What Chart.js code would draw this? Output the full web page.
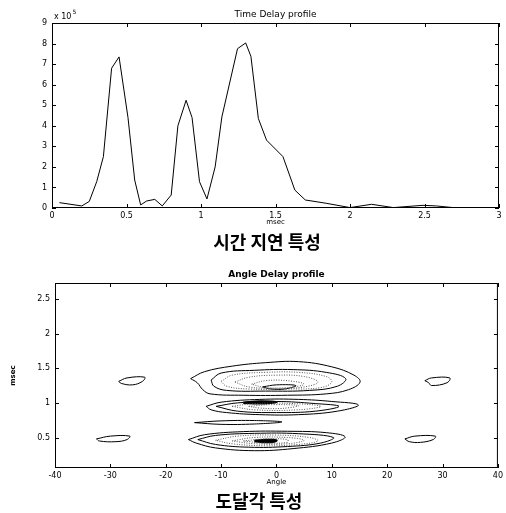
<!DOCTYPE html>
<html>
<head>
<meta charset="utf-8">
<script src="https://cdn.jsdelivr.net/npm/chart.js@4.4.0/dist/chart.umd.min.js"></script>
<style>
  body { margin:0; background:#fff; width:506px; height:513px; position:relative; overflow:hidden; }
  .box { position:absolute; left:0; width:506px; height:230px; }
  .cap { position:absolute; width:506px; text-align:center; font-family:"Noto Sans CJK KR", sans-serif;
         font-weight:700; font-size:18px; line-height:1; color:#000; }
</style>
</head>
<body>
<div class="box" style="top:0"><canvas id="delayChart" width="506" height="230"></canvas></div>
<div class="cap" style="top:232px; left:14px">시간 지연 특성</div>
<div class="box" style="top:260px"><canvas id="angleChart" width="506" height="230"></canvas></div>
<div class="cap" style="top:491px; left:6px">도달각 특성</div>

<script>
// --- Time Delay profile (values x 10^5) ---
const delayMsec  = [0.05, 0.2, 0.25, 0.3, 0.345, 0.4, 0.45, 0.51, 0.555, 0.595, 0.635, 0.69, 0.74, 0.8, 0.845,
                    0.9, 0.94, 0.99, 1.04, 1.095, 1.14, 1.245, 1.3, 1.335, 1.385, 1.44, 1.55, 1.63, 1.7, 1.84,
                    2.0, 2.145, 2.29, 2.49, 2.58, 2.72];
const delayPower = [0.26, 0.1, 0.32, 1.28, 2.5, 6.8, 7.35, 4.4, 1.36, 0.15, 0.34, 0.42, 0.1, 0.63, 4.0,
                    5.24, 4.4, 1.28, 0.44, 2.0, 4.43, 7.75, 8.03, 7.38, 4.35, 3.3, 2.5, 0.87, 0.39, 0.23,
                    0.02, 0.18, 0.02, 0.13, 0.1, 0.0];
const delayXTicks = [0, 0.5, 1, 1.5, 2, 2.5, 3];
const delayYTicks = [0, 1, 2, 3, 4, 5, 6, 7, 8, 9];

// --- Angle Delay profile : contour loops as [angle, msec] ---
const angleXTicks = [-40, -30, -20, -10, 0, 10, 20, 30, 40];
const angleYTicks = [0.5, 1, 1.5, 2, 2.5];

const contourA1 = [[-15.5,1.35],[-13,1.45],[-8,1.53],[-2,1.58],[4,1.595],[10,1.52],[14,1.4],[15.1,1.3],[13,1.19],
                   [9,1.13],[2,1.11],[-6,1.11],[-12,1.13],[-13.3,1.19],[-14.3,1.29]];
const contourA2 = [[-11.8,1.33],[-10,1.43],[-4,1.47],[3,1.48],[9,1.44],[12.5,1.35],[11,1.24],[6,1.18],[-2,1.17],[-9,1.18],[-11.3,1.24]];
const contourA3 = [[-10,1.31],[-8,1.4],[-2,1.44],[4,1.44],[9,1.38],[10,1.3],[8,1.22],[2,1.2],[-5,1.2],[-9,1.24]];
const contourA4 = [[-7.5,1.3],[-5,1.37],[0,1.4],[5,1.38],[7.5,1.3],[5,1.23],[0,1.21],[-5,1.23]];
const contourA5 = [[-4.5,1.27],[-2,1.32],[2,1.32],[5,1.27],[2,1.22],[-2,1.22]];
const contourA6 = [[-2.5,1.23],[0,1.26],[3.5,1.25],[1.5,1.2],[-1,1.2]];

const contourB1 = [[-12.7,0.95],[-10,1.01],[-3,1.05],[4,1.05],[10,1.02],[14.8,0.97],[11,0.88],[4,0.83],[-3,0.83],[-9,0.86],[-11.8,0.9]];
const contourB2 = [[-10.9,0.95],[-7,1.0],[0,1.02],[7,0.99],[11.3,0.95],[7,0.88],[0,0.86],[-7,0.88]];
const contourB3 = [[-8,0.95],[-4,0.99],[3,0.99],[8,0.95],[4,0.9],[-4,0.9]];
const contourB4 = [[-5,0.95],[-1,0.975],[4,0.96],[1,0.92],[-3,0.925]];
const contourB5 = [[-6,1.0],[-3,1.02],[0,1.01],[-3,0.995]];

const contourC1 = [[-14.8,0.715],[-10,0.74],[-4,0.745],[1,0.725],[-4,0.695],[-10,0.69]];

const contourD1 = [[-15.9,0.47],[-13,0.54],[-6,0.585],[2,0.59],[9,0.57],[12.4,0.51],[10,0.42],[3,0.34],[-4,0.31],[-11,0.35],[-14.5,0.42]];
const contourD2 = [[-14.2,0.47],[-11,0.53],[-4,0.56],[4,0.555],[10.3,0.5],[8,0.42],[2,0.37],[-5,0.36],[-11,0.4]];
const contourD3 = [[-11,0.46],[-7,0.52],[0,0.535],[6,0.5],[7.5,0.45],[4,0.4],[-2,0.38],[-8,0.41]];
const contourD4 = [[-8,0.45],[-4,0.5],[2,0.5],[5,0.46],[2,0.41],[-4,0.41]];
const contourD5 = [[-6,0.45],[-2,0.48],[2,0.47],[2,0.43],[-2,0.42]];
const contourD6 = [[-4,0.45],[-2,0.465],[0,0.455],[-2,0.435]];

const spotUpLeft   = [[-28.5,1.31],[-27,1.36],[-23.8,1.37],[-24.2,1.31],[-26,1.26],[-28,1.28]];
const spotLowLeft  = [[-32.5,0.48],[-30,0.52],[-26.5,0.52],[-27,0.47],[-29,0.44],[-32,0.45]];
const spotUpRight  = [[26.8,1.32],[28,1.36],[31.3,1.36],[30.8,1.29],[28,1.25],[27.5,1.29]];
const spotLowRight = [[23.2,0.48],[25,0.52],[28.7,0.52],[28.3,0.47],[26,0.43],[24,0.44]];

const FONT = '"DejaVu Sans", sans-serif';

// styles per contour
const solid = { borderColor:'#000', borderWidth:1, borderDash:[] };
const dotted = { borderColor:'#555', borderWidth:1, borderDash:[1, 1.5] };
const heavy = { borderColor:'#000', borderWidth:2.5, borderDash:[] };
const contours = [
  [contourA1, solid], [contourA2, solid], [contourA3, dotted], [contourA4, dotted], [contourA5, dotted], [contourA6, solid],
  [contourB1, solid], [contourB2, solid], [contourB3, dotted], [contourB4, dotted], [contourB5, heavy],
  [contourC1, solid],
  [contourD1, solid], [contourD2, solid], [contourD3, dotted], [contourD4, dotted], [contourD5, dotted], [contourD6, heavy],
  [spotUpLeft, solid], [spotLowLeft, solid], [spotUpRight, solid], [spotLowRight, solid]
];

// box frame + inward ticks, like the matlab axes
const framePlugin = {
  id: 'frame',
  afterDraw(chart) {
    const { ctx, chartArea: a, scales: { x, y } } = chart;
    const seg = (x1, y1, x2, y2) => { ctx.beginPath(); ctx.moveTo(x1, y1); ctx.lineTo(x2, y2); ctx.stroke(); };
    ctx.save();
    ctx.strokeStyle = '#000';
    ctx.lineWidth = 1;
    ctx.strokeRect(a.left + 0.5, a.top + 0.5, a.right - a.left - 1, a.bottom - a.top - 1);
    x.ticks.forEach(t => {
      const px = Math.round(x.getPixelForValue(t.value)) + 0.5;
      seg(px, a.bottom, px, a.bottom - 4);
      seg(px, a.top, px, a.top + 4);
    });
    y.ticks.forEach(t => {
      const py = Math.round(y.getPixelForValue(t.value)) + 0.5;
      seg(a.left, py, a.left + 4, py);
      seg(a.right, py, a.right - 4, py);
    });
    ctx.restore();
  }
};

// "x 10^5" exponent label
const exponentPlugin = {
  id: 'exponent',
  afterDraw(chart) {
    const { ctx, chartArea: a } = chart;
    ctx.save();
    ctx.fillStyle = '#000';
    ctx.textBaseline = 'alphabetic';
    ctx.font = '8px ' + FONT;
    ctx.fillText('x 10', a.left + 2, a.top - 4);
    const w = ctx.measureText('x 10').width;
    ctx.font = '6px ' + FONT;
    ctx.fillText('5', a.left + 3 + w, a.top - 9);
    ctx.restore();
  }
};

function axis(ticks, min, max, size, isX, title, titlePad) {
  return {
    type: 'linear', min, max,
    afterBuildTicks: s => { s.ticks = ticks.map(v => ({ value: v })); },
    afterFit: s => { if (isX) s.height = size; else s.width = size; },
    grid: { display: false, drawTicks: false },
    border: { display: false },
    ticks: { color:'#000', font:{ family:FONT, size:8 }, padding: isX ? 3 : 5, callback: v => String(v) },
    title: title ? { display:true, text:title, color:'#000', font:{ family:FONT, size:7, weight: isX ? 'normal' : 'bold' }, padding: titlePad } : { display:false }
  };
}

new Chart(document.getElementById('delayChart'), {
  type: 'scatter',
  data: {
    datasets: [{
      data: delayMsec.map((m, i) => ({ x: m, y: delayPower[i] })),
      showLine: true, borderColor:'#000', borderWidth:1, pointRadius:0, tension:0
    }]
  },
  options: {
    responsive: false, animation: false,
    layout: { padding: { left:0, right:7, top:0, bottom:0 } },
    plugins: {
      legend: { display:false }, tooltip: { enabled:false },
      title: { display:true, text:'Time Delay profile', fullSize:false, color:'#000',
               font:{ family:FONT, size:9, weight:'normal' }, padding:{ top:9, bottom:3.2 } }
    },
    scales: {
      x: axis(delayXTicks, 0, 3, 22, true, 'msec', { top:0, bottom:4 }),
      y: axis(delayYTicks, 0, 9, 52, false, null)
    }
  },
  plugins: [framePlugin, exponentPlugin]
});

new Chart(document.getElementById('angleChart'), {
  type: 'scatter',
  data: {
    datasets: contours.map(([pts, st]) => ({
      data: pts.concat([pts[0]]).map(p => ({ x: p[0], y: p[1] })),
      showLine: true, pointRadius: 0, tension: 0.4, fill: false, ...st
    }))
  },
  options: {
    responsive: false, animation: false,
    layout: { padding: { left:0, right:6, top:0, bottom:0 } },
    plugins: {
      legend: { display:false }, tooltip: { enabled:false },
      title: { display:true, text:'Angle Delay profile', fullSize:false, color:'#000',
               font:{ family:FONT, size:9, weight:'bold' }, padding:{ top:9, bottom:3.2 } }
    },
    scales: {
      x: axis(angleXTicks, -40, 40, 22, true, 'Angle', { top:0, bottom:4 }),
      y: axis(angleYTicks, 0.06, 2.73, 55, false, 'msec', { top:9, bottom:0 })
    }
  },
  plugins: [framePlugin]
});
</script>
</body>
</html>
